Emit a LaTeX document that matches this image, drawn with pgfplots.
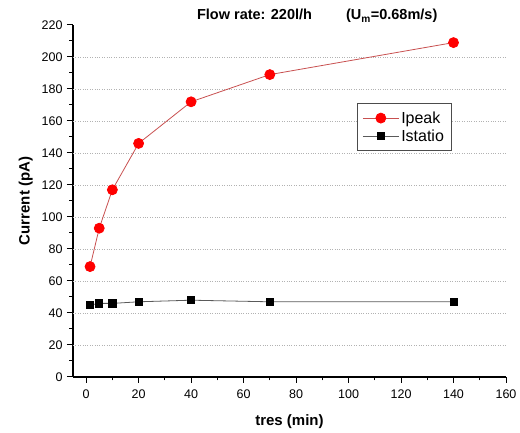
\documentclass[border=0pt]{standalone}
\usepackage{pgfplots}
\pgfplotsset{compat=1.18}
\usepackage{fontspec}
\setmainfont{Liberation Sans}
\definecolor{peakline}{RGB}{200,80,80}
\definecolor{statline}{RGB}{90,90,90}
\begin{document}
\begin{tikzpicture}[x=1pt,y=1pt]
\begin{axis}[
  at={(0,0)}, anchor=south west,
  scale only axis, width=433pt, height=352pt,
  xmin=-5, xmax=160, ymin=0, ymax=220,
  clip mode=individual,
  axis x line*=bottom, axis y line*=left,
  axis line style={line width=1.2pt,-},
  tick align=outside,
  xtick={0,20,...,160}, ytick={0,20,...,220},
  minor xtick={10,30,...,150}, minor ytick={10,30,...,210},
  major tick length=6pt, minor tick length=3.5pt,
  tick style={line width=1pt,black},
  extra y ticks={20,40,...,200},
  extra y tick labels={},
  extra y tick style={grid=major, major tick length=0pt},
  grid style={dotted, gray!60, line width=0.6pt},
  ticklabel style={font=\fontsize{12.5}{14}\selectfont},
  xticklabel style={yshift=-3pt},
  yticklabel style={xshift=-1pt},
  /pgf/number format/assume math mode=true,
  xlabel={\bfseries tres (min)},
  ylabel={\bfseries Current (pA)},
  label style={font=\fontsize{15}{17}\selectfont},
  xlabel style={yshift=-9pt},
  ylabel style={yshift=-4pt},
  legend style={at={(0.656,0.778)}, anchor=north west, draw=black!70, line width=0.8pt,
    font=\fontsize{16}{19}\selectfont, inner xsep=5pt, inner ysep=6pt,
    row sep=1pt},
  legend cell align=left,
  legend image code/.code={\draw[mark repeat=2,mark phase=2] plot coordinates {(0pt,0pt) (18pt,0pt) (36pt,0pt)};},
]
\addplot[peakline, line width=0.8pt, mark=*, mark size=5pt, mark options={fill=red, draw=red}]
  coordinates {(1.5,69) (5,93) (10,117) (20,146) (40,172) (70,189) (140,209)};
\addlegendentry{Ipeak}
\addplot[statline, line width=0.8pt, mark=square*, mark size=3.6pt, mark options={fill=black, draw=black}]
  coordinates {(1.5,45) (5,46) (10,46) (20,47) (40,48) (70,47) (140,47)};
\addlegendentry{Istatio}
\node[font=\fontsize{14.5}{17}\selectfont\bfseries, anchor=center] at (rel axis cs:0.564,1.025)
  {Flow rate: 220l/h\hspace{34pt}(U\textsubscript{m}=0.68m/s)};
\end{axis}
\useasboundingbox (-73pt,-56pt) rectangle (447pt,377pt);
\end{tikzpicture}
\end{document}
